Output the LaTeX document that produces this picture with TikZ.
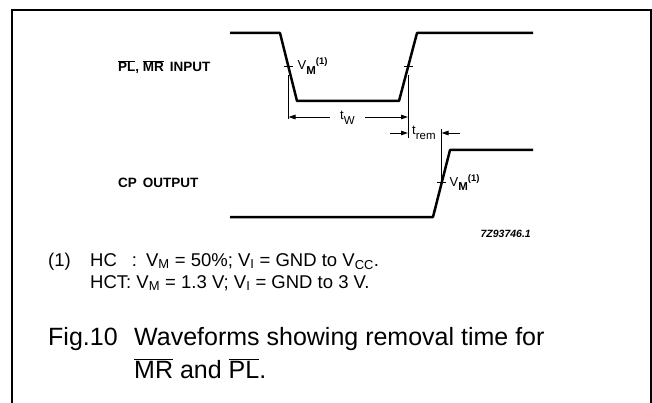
\documentclass[tikz,border=0pt]{standalone}
\usepackage{fontspec}
\setmainfont{Liberation Sans}
\usetikzlibrary{arrows.meta}
\newcommand\ovl[1]{$\overline{\hbox{#1}}$}
\newcommand\lsub[1]{\raisebox{-4.5pt}{\fontsize{11.5}{12}\selectfont #1}}
\newcommand\lsup[1]{\raisebox{5pt}{\fontsize{9.5}{10}\selectfont\bfseries #1}}
\begin{document}
\begin{tikzpicture}[x=1pt,y=-1pt,
  wave/.style={line width=2.5pt,line join=round},
  dimline/.style={line width=0.9pt},
  tickmark/.style={line width=1pt},
  arr/.style={line width=0.9pt,-{Triangle[length=7pt,width=4.5pt]}},
  lbl/.style={font=\fontsize{13.5}{15}\selectfont\bfseries,inner sep=0pt,anchor=west},
  dimtxt/.style={font=\fontsize{13}{14}\selectfont,inner sep=0pt,anchor=base west},
  note/.style={font=\fontsize{18.5}{22}\selectfont,inner sep=0pt,anchor=base west},
  captxt/.style={font=\fontsize{25}{33}\selectfont,inner sep=0pt,anchor=base west}]
\useasboundingbox (0,0) rectangle (652,403);
% frame
\draw[line width=1.6pt] (12,403) -- (12,10) -- (651,10) -- (651,403);
% input waveform
\coordinate (a0) at (230,33);
\coordinate (a1) at (280,33);
\coordinate (a2) at (297,101);
\coordinate (a3) at (399,101);
\coordinate (a4) at (417,33);
\coordinate (a5) at (533,33);
\draw[wave] (a0) -- (a1) -- (a2) -- (a3) -- (a4) -- (a5);
% output waveform
\coordinate (b0) at (230,217);
\coordinate (b1) at (433,217);
\coordinate (b2) at (450,150);
\coordinate (b3) at (533,150);
\draw[wave] (b0) -- (b1) -- (b2) -- (b3);
% VM points
\coordinate (m1) at (288.5,67);
\coordinate (m2) at (408,67);
\coordinate (m3) at (441.5,183);
\draw[tickmark] ([xshift=-4.5pt]m1) -- ([xshift=4.5pt]m1);
\draw[tickmark] ([xshift=-4.5pt]m2) -- ([xshift=4.5pt]m2);
\draw[tickmark] ([xshift=-4.5pt]m3) -- ([xshift=4.5pt]m3);
% extension lines
\coordinate (e1) at (288.5,119);
\coordinate (e2) at (408,138);
\coordinate (e3) at (441.5,129);
\draw[dimline] ([yshift=-8pt]m1) -- (e1);
\draw[dimline] ([yshift=-8pt]m2) -- (e2);
\draw[dimline] (e3) -- (m3);
% labels
\node[dimtxt] (vm1) at (297.5,70) {V\lsub{\bfseries M}\lsup{(1)}};
\node[dimtxt] (vm2) at (449.5,186) {V\lsub{\bfseries M}\lsup{(1)}};
% tW
\node[dimtxt] (tw) at (340,120) {t\lsub{W}};
\coordinate (tw1) at (330,117);
\coordinate (tw2) at (365,117);
\draw[arr] (tw1) -- (e1 |- tw1);
\draw[arr] (tw2) -- (e2 |- tw2);
% trem
\node[dimtxt] (tr) at (412,135) {t\lsub{rem}};
\coordinate (tr1) at (390,133);
\coordinate (tr2) at (460,133);
\draw[arr] (tr1) -- (e2 |- tr1);
\draw[arr] (tr2) -- (e3 |- tr2);
% left labels
\node[lbl] (in) at (118,67) {\ovl{PL}, \ovl{MR}\, INPUT};
\node[lbl] (out) at (118,183) {CP\, OUTPUT};
\node[font=\fontsize{10.5}{12}\selectfont\bfseries\itshape,inner sep=0pt,anchor=east] (code) at (531,234) {7Z93746.1};
% footnote
\node[note] (n0) at (48,266) {(1)};
\node[note] (n1) at (90,266) {HC\hspace{15pt}:\hspace{9pt}V\textsubscript{M} = 50\%; V\textsubscript{I} = GND to V\textsubscript{CC}.};
\node[note] (n2) at (90,288) {HCT: V\textsubscript{M} = 1.3 V; V\textsubscript{I} = GND to 3 V.};
% caption
\node[captxt] (c0) at (48,345) {Fig.10};
\node[captxt] (c1) at (134,345) {Waveforms showing removal time for};
\node[captxt] (c2) at (134,378) {\ovl{MR} and \ovl{PL}.};
\end{tikzpicture}
\end{document}
